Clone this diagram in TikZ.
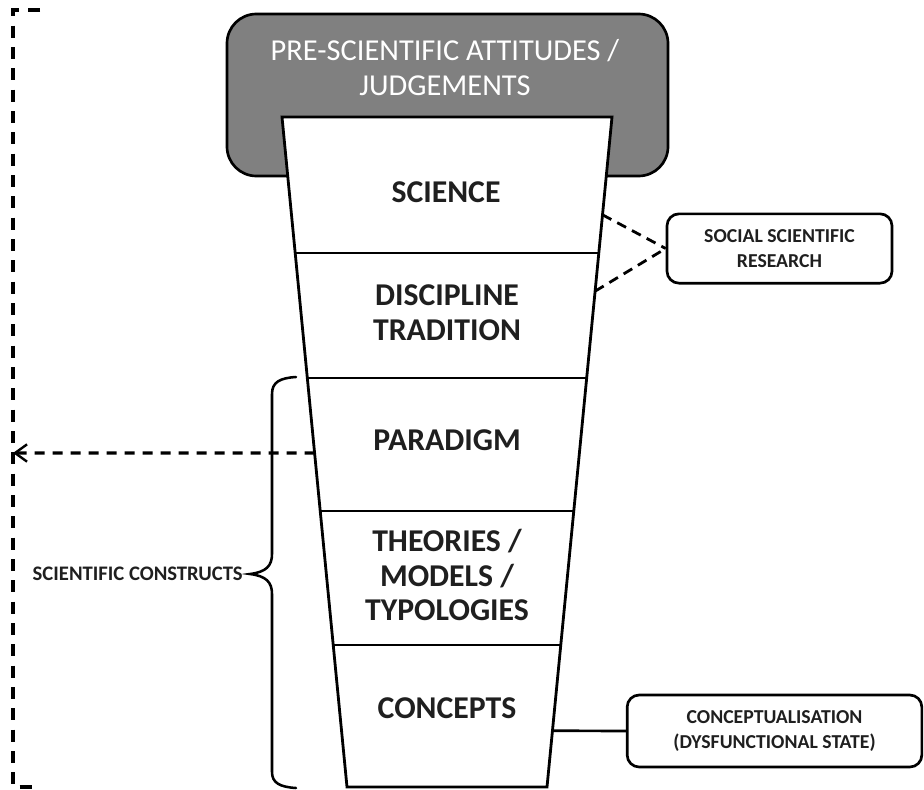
\documentclass[tikz,border=0pt]{standalone}
\usepackage{fontspec}
\setmainfont{Carlito}
\usetikzlibrary{calc,arrows.meta}

\begin{document}
\begin{tikzpicture}[x=0.75pt,y=-0.75pt,
  headbox/.style={draw=black, line width=2pt, fill=black!50, rounded corners=22pt},
  headtext/.style={text=white, align=center, inner sep=0pt, font=\fontsize{22.8}{26}\selectfont},
  funnel/.style={draw=black, line width=2.1pt, fill=white, line join=miter},
  divider/.style={draw=black, line width=1.7pt},
  stagetext/.style={align=center, inner sep=0pt, text=black!88, font=\fontsize{23.8}{26}\selectfont\bfseries},
  sidebox/.style={draw=black, line width=2pt, fill=white, rounded corners=9pt, align=center,
    inner sep=0pt, text=black!88, font=\fontsize{14.8}{18.5}\selectfont\bfseries},
  sidelabel/.style={inner sep=0pt, text=black!88, font=\fontsize{15.5}{18}\selectfont\bfseries},
  dashlink/.style={draw=black, line width=2.1pt, dash pattern=on 7.5pt off 5pt},
  outline/.style={draw=black, line width=2.7pt, dash pattern=on 9pt off 7pt},
  loopback/.style={draw=black, line width=2.3pt, dash pattern=on 7.5pt off 6pt,
    -{Straight Barb[length=9pt,width=13pt,line width=1.8pt]}},
  bracecurve/.style={draw=black, line width=1.9pt, line cap=round}
]
\useasboundingbox (0,0) rectangle (924,789);

% dashed outer bracket on the left
\draw[outline] (40,10) -- (13,10) -- (13,787) -- (40,787);
\coordinate (bk) at (13,453);

% header box behind the funnel
\draw[headbox] (227,14) rectangle (668,176);
\node[headtext] (head) at (445,67.5) {PRE-SCIENTIFIC ATTITUDES /\\JUDGEMENTS};

% funnel corners
\coordinate (tl) at (282,117);
\coordinate (tr) at (612,117);
\coordinate (bl) at (347,787);
\coordinate (br) at (547,787);
\draw[funnel] (tl) -- (tr) -- (br) -- (bl) -- cycle;

% layer dividers
\foreach \t/\n in {0.203/a, 0.3896/b, 0.588/c, 0.788/d}{
  \coordinate (dl\n) at ($(tl)!\t!(bl)$);
  \coordinate (dr\n) at ($(tr)!\t!(br)$);
  \draw[divider] (dl\n) -- (dr\n);
}

% layer labels
\node[stagetext] (science) at (446,192) {SCIENCE};
\node[stagetext] (discipline) at (447,313) {DISCIPLINE\\TRADITION};
\node[stagetext] (paradigm) at (447,440) {PARADIGM};
\node[stagetext] (theories) at (447,575) {THEORIES /\\MODELS /\\TYPOLOGIES};
\node[stagetext] (concepts) at (447,708) {CONCEPTS};

% side boxes
\node[sidebox, minimum width=168.75pt, minimum height=52pt] (ssr) at (779.5,248.5)
  {SOCIAL SCIENTIFIC\\RESEARCH};
\node[sidebox, minimum width=221pt, minimum height=54pt] (concbox) at (774.5,731)
  {CONCEPTUALISATION\\(DYSFUNCTIONAL STATE)};

% connectors to the side boxes
\coordinate (e1) at ($(tr)!0.146!(br)$);
\coordinate (e2) at ($(tr)!0.26!(br)$);
\coordinate (ec) at ($(tr)!0.916!(br)$);
\draw[dashlink] (e1) -- (ssr.west);
\draw[dashlink] (e2) -- (ssr.west);
\draw[divider, line width=2pt] (ec) -- (concbox.west);

% dashed arrow from the paradigm layer back to the bracket
\coordinate (ea) at ($(tl)!0.5015!(bl)$);
\draw[loopback] (ea) -- (bk);

% curly brace grouping the lower layers
\coordinate (bt) at (296,377);
\coordinate (bb) at (296,788);
\coordinate (btip) at (250,574);
\draw[bracecurve] (bt) .. controls (280,378) and (272,382) .. (272,394)
  -- (272,554) .. controls (272,566) and (266,572) .. (btip)
  .. controls (266,576) and (272,582) .. (272,594)
  -- (272,772) .. controls (272,783) and (280,787) .. (bb);
\node[sidelabel, anchor=east] (constructs) at (243,574) {SCIENTIFIC CONSTRUCTS};
\end{tikzpicture}
\end{document}
